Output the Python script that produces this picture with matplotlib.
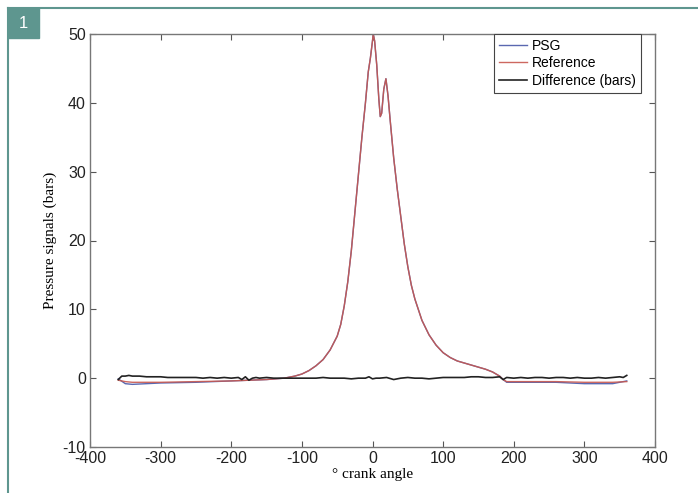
import matplotlib
matplotlib.use("Agg")
import matplotlib.pyplot as plt
from matplotlib.patches import Rectangle
from matplotlib.lines import Line2D

plt.rcParams["axes.unicode_minus"] = False

# ---- data ----
ref_angle = [-360, -350, -340, -300, -250, -200, -150, -125, -110, -100, -90, -80, -70,
             -60, -50, -45, -40, -35, -30, -25, -20, -15, -10, -6, -3, 0, 1, 3, 6, 9,
             11, 13, 16, 19, 22, 25, 30, 35, 40, 45, 50, 55, 60, 70, 80, 90, 100, 110,
             120, 130, 140, 150, 160, 170, 180, 185, 190, 220, 260, 300, 340, 360]
ref_values = [-0.3, -0.5, -0.6, -0.6, -0.5, -0.4, -0.2, 0.0, 0.3, 0.6, 1.1, 1.8, 2.7,
              4.1, 6.1, 7.8, 10.5, 14.0, 18.5, 24.0, 29.5, 35.0, 40.0, 44.5, 46.5, 49.0, 50.0, 49.0, 45.5, 40.5,
              38.0, 38.5, 42.0, 43.5, 41.0, 37.5, 32.0, 27.5, 23.5, 19.5, 16.2, 13.5, 11.5, 8.4, 6.3, 4.8, 3.7, 3.0,
              2.5, 2.2, 1.9, 1.6, 1.3, 0.9, 0.3, -0.2, -0.5, -0.5, -0.5, -0.6, -0.6, -0.5]
psg_values = [-0.1, -0.8, -0.9, -0.7, -0.6, -0.4, -0.2, 0.0, 0.3, 0.6, 1.1, 1.8, 2.7,
              4.1, 6.1, 7.8, 10.5, 14.0, 18.5, 24.0, 29.5, 35.0, 40.0, 44.5, 46.5, 49.0, 50.0, 49.0, 45.5, 40.5,
              38.0, 38.5, 42.0, 43.5, 41.0, 37.5, 32.0, 27.5, 23.5, 19.5, 16.2, 13.5, 11.5, 8.4, 6.3, 4.8, 3.7, 3.0,
              2.5, 2.2, 1.9, 1.6, 1.3, 0.9, 0.3, -0.2, -0.6, -0.6, -0.6, -0.8, -0.8, -0.4]

diff_angle = [-360, -355, -350, -345, -340, -330, -320, -310, -300, -290, -280, -270, -260,
              -250, -240, -230, -220, -210, -200, -190, -185, -180, -175, -170, -165, -160,
              -150, -140, -130, -120, -110, -100, -90, -80, -70, -60, -50, -40, -30, -20,
              -10, -5, 0, 5, 10, 20, 30, 40, 50, 60, 70, 80, 90, 100, 110, 120, 130, 140,
              150, 160, 170, 180, 185, 190, 200, 210, 220, 230, 240, 250, 260, 270, 280,
              290, 300, 310, 320, 330, 340, 350, 355, 360]
diff_values = [-0.2, 0.3, 0.3, 0.4, 0.3, 0.3, 0.2, 0.2, 0.2, 0.1, 0.1, 0.1, 0.1,
               0.1, 0.0, 0.1, 0.0, 0.1, 0.0, 0.1, -0.2, 0.2, -0.3, 0.0, 0.1, 0.0,
               0.1, 0.0, 0.0, 0.0, 0.0, 0.0, 0.0, 0.0, 0.1, 0.0, 0.0, 0.0, -0.1, 0.0,
               0.0, 0.2, -0.1, 0.0, 0.0, 0.1, -0.2, 0.0, 0.1, 0.0, 0.0, -0.1, 0.0, 0.1, 0.1, 0.1, 0.1, 0.2,
               0.2, 0.1, 0.1, 0.2, -0.2, 0.1, 0.0, 0.1, 0.0, 0.1, 0.1, 0.0, 0.1, 0.1, 0.0,
               0.1, 0.0, 0.0, 0.1, 0.0, 0.1, 0.2, 0.1, 0.4]

x_ticks = [-400, -300, -200, -100, 0, 100, 200, 300, 400]
y_ticks = [-10, 0, 10, 20, 30, 40, 50]

teal = "#5e968f"

fig = plt.figure(figsize=(6.98, 4.93), dpi=100)

# frame decoration
fig.add_artist(Line2D([8/698, 1.0], [1 - 8/493, 1 - 8/493], color=teal, lw=1.5,
                      transform=fig.transFigure))
fig.add_artist(Line2D([8/698, 8/698], [0, 1 - 8/493], color=teal, lw=1.5,
                      transform=fig.transFigure))
fig.add_artist(Rectangle((8/698, 1 - 38/493), 31/698, 30/493, color=teal,
                         transform=fig.transFigure))
fig.text(23.5/698, 1 - 23/493, "1", color="white", fontsize=12,
         family="Liberation Sans", ha="center", va="center")

ax = fig.add_axes([90/698, 46/493, 565/698, 413/493])
ax.plot(ref_angle, psg_values, color="#5a68b0", lw=1.0, label="PSG")
ax.plot(ref_angle, ref_values, color="#c8584f", lw=1.0, label="Reference", alpha=0.9)
ax.plot(diff_angle, diff_values, color="#222222", lw=1.2, label="Difference (bars)")

ax.set_xlim(-400, 400)
ax.set_ylim(-10, 50)
ax.set_xticks(x_ticks)
ax.set_yticks(y_ticks)
ax.tick_params(direction="in", top=True, right=True, length=4, width=0.8,
               colors="#555555", labelcolor="#222222", labelsize=11.5, pad=3)
for lab in ax.get_xticklabels() + ax.get_yticklabels():
    lab.set_family("Liberation Sans")
for sp in ax.spines.values():
    sp.set_color("#777777")
    sp.set_linewidth(1.0)

ax.set_xlabel("° crank angle", family="Liberation Serif", fontsize=11, labelpad=1)
ax.set_ylabel("Pressure signals (bars)", family="Liberation Serif", fontsize=11, labelpad=4)

leg = ax.legend(loc="upper right", bbox_to_anchor=(0.975, 1.0), fancybox=False,
                edgecolor="#444444", framealpha=1, borderaxespad=0.0,
                prop={"family": "Liberation Sans", "size": 10},
                handlelength=2.0, labelspacing=0.25, borderpad=0.35, handletextpad=0.4)
leg.get_frame().set_linewidth(0.8)

fig.savefig("out.png", dpi=100)
